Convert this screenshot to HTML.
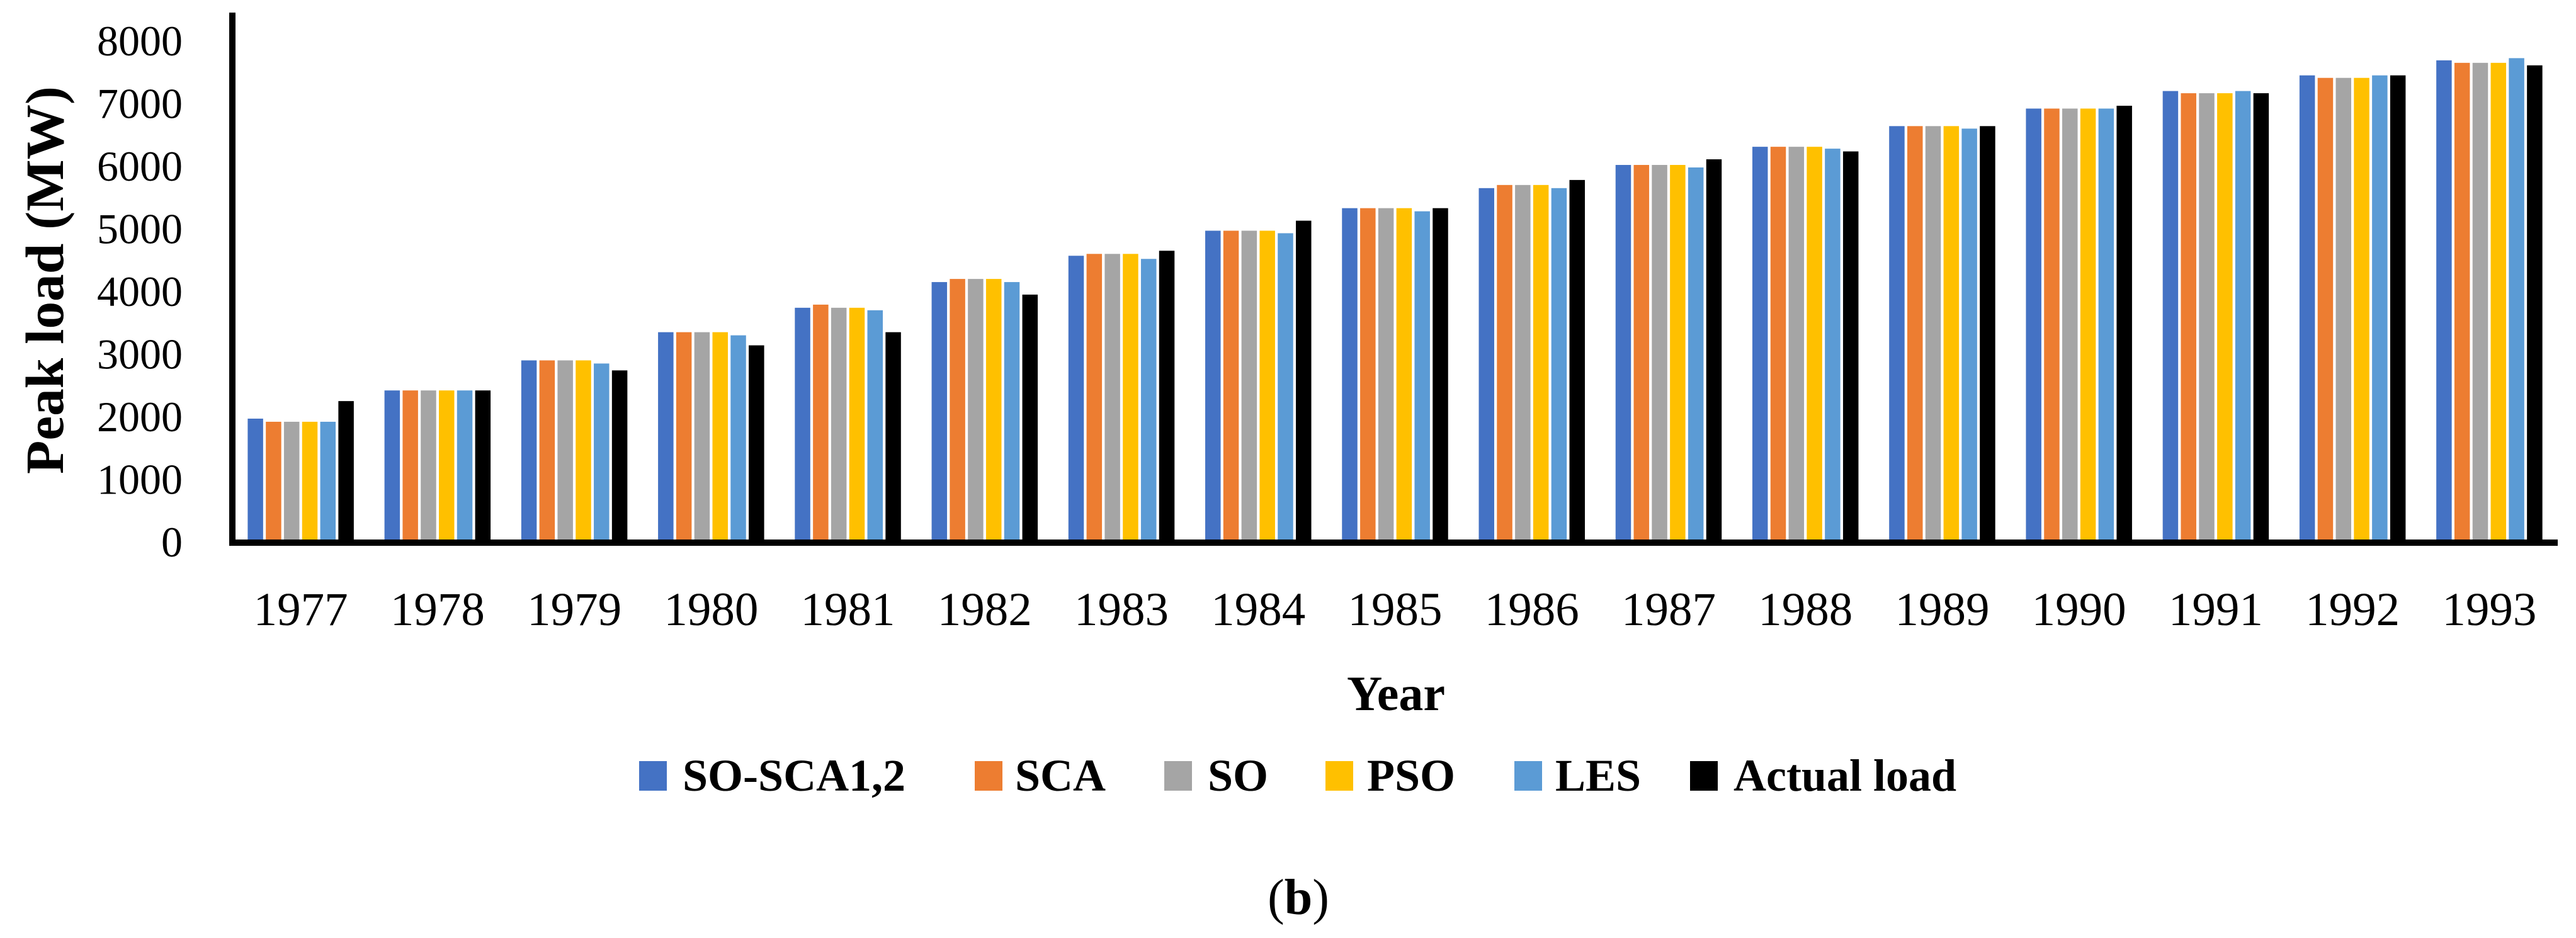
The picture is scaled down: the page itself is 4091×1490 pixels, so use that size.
<!DOCTYPE html>
<html><head><meta charset="utf-8"><style>
html,body{margin:0;padding:0;background:#fff;}
svg{display:block;font-family:"Liberation Serif","DejaVu Serif",serif;}
svg text{font-family:"Liberation Serif","DejaVu Serif",serif;fill:#000;}
</style></head><body>
<svg id="chart" width="4091" height="1490" viewBox="0 0 4091 1490" xmlns="http://www.w3.org/2000/svg" font-family="Liberation Serif, DejaVu Serif, serif">
  <g id="bars"></g>
  <g id="yticks"></g>
  <g id="xticks"></g>
  <line x1="369" y1="20" x2="369" y2="867" stroke="#000" stroke-width="10"/>
  <line x1="364" y1="862" x2="4062" y2="862" stroke="#000" stroke-width="10"/>
  <text font-family="Liberation Serif, DejaVu Serif, serif" transform="translate(100,445) rotate(-90)" text-anchor="middle" font-size="86" font-weight="bold" textLength="616" lengthAdjust="spacingAndGlyphs">Peak load (MW)</text>
  <text font-family="Liberation Serif, DejaVu Serif, serif" x="2217" y="1128" text-anchor="middle" font-size="78" font-weight="bold">Year</text>
  <g id="legend"></g>
  <text font-family="Liberation Serif, DejaVu Serif, serif" x="2062" y="1452" text-anchor="middle" font-size="80">(<tspan font-weight="bold">b</tspan>)</text>
</svg>
<script>
const categories = ["1977","1978","1979","1980","1981","1982","1983","1984","1985","1986","1987","1988","1989","1990","1991","1992","1993"];
const seriesNames = ["SO-SCA1,2","SCA","SO","PSO","LES","Actual load"];
const soSca = [1970,2420,2900,3350,3740,4150,4570,4970,5330,5650,6020,6310,6640,6920,7200,7450,7690];
const sca   = [1920,2420,2900,3350,3790,4200,4600,4970,5330,5700,6020,6310,6640,6920,7165,7410,7650];
const so    = [1920,2420,2900,3350,3740,4200,4600,4970,5330,5700,6020,6310,6640,6920,7165,7410,7650];
const pso   = [1920,2420,2900,3350,3740,4200,4600,4970,5330,5700,6020,6310,6640,6920,7165,7410,7650];
const les   = [1920,2420,2850,3300,3700,4150,4520,4930,5280,5650,5980,6280,6600,6920,7200,7450,7725];
const actual= [2250,2420,2740,3140,3350,3950,4650,5130,5330,5780,6110,6236,6640,6965,7165,7450,7610];
const yTicks = [0,1000,2000,3000,4000,5000,6000,7000,8000];
const colors = ["#4472C4","#ED7D31","#A5A5A5","#FFC000","#5B9BD5","#000000"];
const allSeries = [soSca,sca,so,pso,les,actual];

const NS="http://www.w3.org/2000/svg";
const FF="Liberation Serif, DejaVu Serif, serif";
const x0=369, x1=4062, y0=861, yTop=65, yMax=8000;
const catW=(x1-x0)/categories.length;
function xCenter(i){return x0+catW*(i+0.5);}
function yScale(v){return y0-(v/yMax)*(y0-yTop);}
const slot=28.8, barW=24.5;

const bars=document.getElementById('bars');
allSeries.forEach((vals,s)=>{
  vals.forEach((v,i)=>{
    const r=document.createElementNS(NS,'rect');
    const cx=xCenter(i)+(s-2.5)*slot;
    r.setAttribute('x',cx-barW/2);
    r.setAttribute('y',yScale(v));
    r.setAttribute('width',barW);
    r.setAttribute('height',y0-yScale(v));
    r.setAttribute('fill',colors[s]);
    
    
    bars.appendChild(r);
  });
});

const yt=document.getElementById('yticks');
yTicks.forEach(t=>{
  const tx=document.createElementNS(NS,'text');
  tx.setAttribute('x',290);
  tx.setAttribute('y',yScale(t)+23);
  tx.setAttribute('text-anchor','end');
  tx.setAttribute('font-size','68');
  tx.setAttribute('font-family',FF);
  tx.textContent=t;
  
  
  yt.appendChild(tx);
});

const xt=document.getElementById('xticks');
categories.forEach((c,i)=>{
  const tx=document.createElementNS(NS,'text');
  tx.setAttribute('x',xCenter(i));
  tx.setAttribute('y',993);
  tx.setAttribute('text-anchor','middle');
  tx.setAttribute('font-size','75');
  tx.setAttribute('font-family',FF);
  tx.textContent=c;
  
  
  xt.appendChild(tx);
});

const legendSwatchX=[1015,1548,1849,2105,2405,2684];
const legendTextX=[1084,1612,1918,2171,2470,2753];
const lg=document.getElementById('legend');
seriesNames.forEach((n,s)=>{
  const g=document.createElementNS(NS,'g');
  
  
  const r=document.createElementNS(NS,'rect');
  r.setAttribute('x',legendSwatchX[s]);
  r.setAttribute('y',1209);
  r.setAttribute('width',44);
  r.setAttribute('height',47);
  r.setAttribute('fill',colors[s]);
  
  
  const t=document.createElementNS(NS,'text');
  t.setAttribute('x',legendTextX[s]);
  t.setAttribute('y',1256);
  t.setAttribute('font-size','72');
  t.setAttribute('font-weight','bold');
  t.setAttribute('font-family',FF);
  t.textContent=n;
  
  
  g.appendChild(r);g.appendChild(t);lg.appendChild(g);
});
</script>
</body></html>
